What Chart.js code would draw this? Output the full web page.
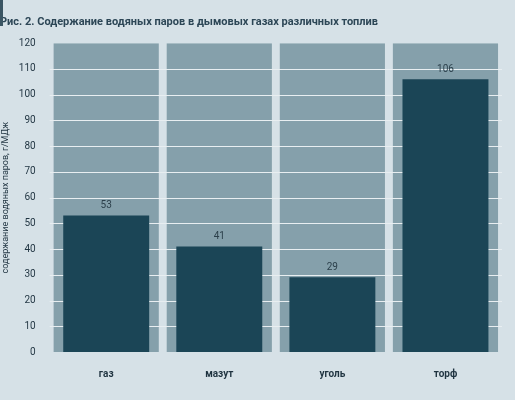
<!DOCTYPE html>
<html><head><meta charset="utf-8">
<script src="https://cdn.jsdelivr.net/npm/chart.js@4"></script>
<style>
html,body{margin:0;padding:0;background:#d6e1e7;}
#wrap{position:relative;width:515px;height:400px;}
#mark{position:absolute;left:0;top:0;width:3px;height:26px;background:#3a5563;}
</style></head><body>
<div id="wrap"><div id="mark"></div><canvas id="c" width="515" height="400"></canvas></div>
<script>
const categories = ["газ","мазут","уголь","торф"];
const values = [53,41,29,106];
const panelValues = [120,120,120,120];
const yTicks = [0,10,20,30,40,50,60,70,80,90,100,110,120];
const FONT='"Roboto", "Liberation Sans", sans-serif';

const gridPlugin = {
  id:'grid',
  afterDatasetDraw(chart,args){
    if(args.index!==0) return;
    const y=chart.scales.y, x=chart.scales.x, ctx=chart.ctx;
    ctx.save(); ctx.strokeStyle='#e8eef1'; ctx.lineWidth=1;
    yTicks.forEach(v=>{ if(v===0||v===120) return; const py=Math.round(y.getPixelForValue(v))+0.5;
      ctx.beginPath(); ctx.moveTo(x.left,py); ctx.lineTo(x.right,py); ctx.stroke();});
    ctx.restore();
  },
  afterDatasetsDraw(chart){
    const meta=chart.getDatasetMeta(1), ctx=chart.ctx;
    ctx.save(); ctx.fillStyle='#2b3f4a'; ctx.font='10px '+FONT;
    ctx.textAlign='center'; ctx.textBaseline='bottom';
    meta.data.forEach((b,i)=>ctx.fillText(values[i],b.x,b.y-5));
    ctx.restore();
  }
};

new Chart(document.getElementById('c'),{
  type:'bar',
  data:{labels:categories,datasets:[
    {data:panelValues,backgroundColor:'#85a0ab',categoryPercentage:0.93,barPercentage:1,order:2,grouped:false},
    {data:values,backgroundColor:'#1b4556',categoryPercentage:1,barPercentage:0.76,order:1,grouped:false}
  ]},
  options:{
    responsive:false,animation:false,
    layout:{padding:{left:0,right:13,top:0,bottom:12}},
    plugins:{legend:{display:false},tooltip:{enabled:false},
      title:{display:true,text:'Рис. 2. Содержание водяных паров в дымовых газах различных топлив',align:'start',
        color:'#2c4656',font:{size:11,weight:'bold',family:FONT},padding:{top:16,bottom:14}}},
    scales:{
      x:{grid:{display:false},border:{display:false},
        ticks:{color:'#1f3340',font:{size:10,weight:'bold',family:FONT},padding:8}},
      y:{min:0,max:120,afterBuildTicks(s){s.ticks=yTicks.map(v=>({value:v}));},
        grid:{display:false},border:{display:false},
        ticks:{color:'#1f3340',font:{size:10,family:FONT},padding:6},
        title:{display:true,text:'содержание водяных паров, г/МДж',color:'#1f3340',font:{size:9,family:FONT},padding:{top:0,bottom:2}}}
    }
  },
  plugins:[gridPlugin]
});
</script></body></html>
